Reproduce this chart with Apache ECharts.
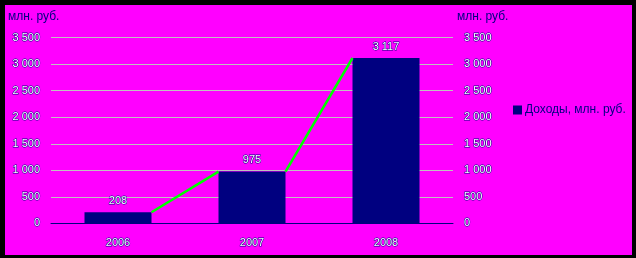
<!DOCTYPE html>
<html><head><meta charset="utf-8">
<script src="https://cdn.jsdelivr.net/npm/echarts@6/dist/echarts.min.js"></script>
<style>
html,body{margin:0;padding:0;background:#000;width:636px;height:258px;overflow:hidden}
#c{position:absolute;left:5px;top:5px;width:627px;height:250px;background:#ff00ff}
</style></head>
<body><div id="c"></div>
<script>
const categories = ['2006', '2007', '2008'];
const revenues = [208, 975, 3117];
const seriesName = 'Доходы, млн. руб.';
const unitLabel = 'млн. руб.';

function fmt(v){ return String(v).replace(/\B(?=(\d{3})+(?!\d))/g, ' '); }

const segData = [];
for (let i = 0; i < revenues.length - 1; i++) segData.push([i, revenues[i], revenues[i+1]]);

const tickText = {color:'#ffffff', fontFamily:'Liberation Sans', fontSize:11, textBorderColor:'#000080', textBorderWidth:1};

const chart = echarts.init(document.getElementById('c'), null, {renderer:'canvas'});
chart.setOption({
  animation:false,
  backgroundColor:'#ff00ff',
  grid:{left:46, top:32.7, width:402, height:185.6},
  legend:{
    left:503, top:94, itemWidth:9, itemHeight:9, itemGap:4,
    data:[{name:seriesName, icon:'rect'}],
    textStyle:{color:'#000080', fontFamily:'Liberation Sans', fontSize:12, padding:[0,0,0,-2]}
  },
  graphic:[
    {type:'text', left:3, top:6, style:{text:unitLabel, fill:'#000080', font:'12px Liberation Sans'}},
    {type:'text', left:452, top:6, style:{text:unitLabel, fill:'#000080', font:'12px Liberation Sans'}}
  ],
  xAxis:{
    type:'category', data:categories,
    axisLine:{lineStyle:{color:'#000080', width:1}},
    axisTick:{show:false},
    axisLabel:Object.assign({margin:14}, tickText)
  },
  yAxis:[
    {type:'value', min:0, max:3500, interval:500,
     axisLine:{show:false}, axisTick:{show:false},
     splitLine:{lineStyle:{color:'#c0c0c0', width:1}},
     axisLabel:Object.assign({margin:11, formatter:fmt}, tickText)},
    {type:'value', min:0, max:3500, interval:500, position:'right',
     axisLine:{show:false}, axisTick:{show:false}, splitLine:{show:false},
     axisLabel:Object.assign({margin:11, formatter:fmt}, tickText)}
  ],
  series:[
    {name:seriesName, type:'bar', data:revenues, barWidth:'50%',
     itemStyle:{color:'#000080'},
     label:Object.assign({show:true, position:'top', distance:6, formatter:p=>fmt(p.value)}, tickText)},
    {type:'custom', data:segData, z:5, silent:true,
     renderItem:function(params, api){
       const i = api.value(0);
       const band = api.size([1,0])[0];
       const p1 = api.coord([i, api.value(1)]);
       const p2 = api.coord([i+1, api.value(2)]);
       return {type:'line', shape:{x1:p1[0]+band*0.25, y1:p1[1], x2:p2[0]-band*0.25, y2:p2[1]},
               style:{stroke:'#00ff00', lineWidth:2.5}};
     }}
  ]
});
</script></body></html>
